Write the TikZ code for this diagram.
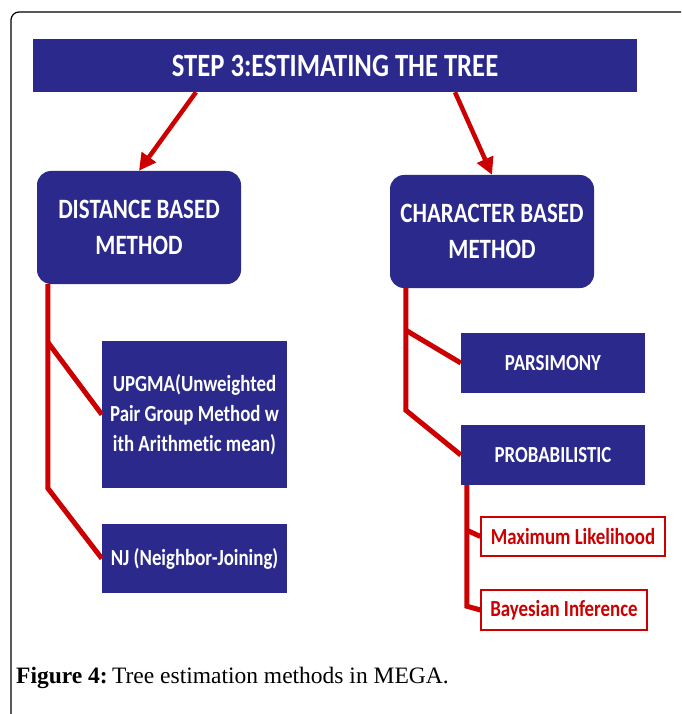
\documentclass[tikz,border=0pt]{standalone}
\usepackage{fontspec}
\usetikzlibrary{arrows.meta}
\setmainfont{Liberation Serif}
\newfontfamily\boxfont[FakeStretch=0.82,Ligatures=NoCommon]{Carlito}
\definecolor{megablue}{RGB}{43,41,140}
\definecolor{megared}{RGB}{204,0,0}

\begin{document}
\begin{tikzpicture}
        [
            x = 1pt, y = -1pt,
            boxed/.style         = {shape=rectangle, fill=megablue, text=white, align=center, inner sep=0pt,
                                    font=\boxfont\bfseries\fontsize{23}{30}\selectfont},
            methodbox/.style     = {boxed, rounded corners=14pt, minimum width=204pt, minimum height=113pt,
                                    font=\boxfont\bfseries\fontsize{28}{36}\selectfont},
            leafbox/.style       = {boxed, minimum width=185pt},
            redbox/.style        = {shape=rectangle, draw=megared, line width=1.2pt, fill=white, text=megared,
                                    inner sep=0pt, minimum height=39pt, font=\boxfont\bfseries\fontsize{23}{30}\selectfont},
            pointer/.style       = {draw=megared, line width=4.5pt, -{Triangle[length=17pt,width=17pt]}},
            branch/.style        = {draw=megared, line width=5pt},
        ]
        \useasboundingbox (0,0) rectangle (681,714);
        \draw [line width=1.2pt, rounded corners=8pt] (11,714) -- (11,12) -- (681,12);

        \node [boxed, minimum width=604pt, minimum height=53pt, font=\boxfont\bfseries\fontsize{32.5}{36}\selectfont]
            (title) at (335,65.5) {STEP 3:ESTIMATING THE TREE};

        \node [methodbox] (dist) at (139,227.5) {DISTANCE BASED\\METHOD};
        \node [methodbox] (char) at (492,231.5) {CHARACTER BASED\\METHOD};

        \node [leafbox, minimum height=147pt] (upgma) at (194.5,414.5)
            {UPGMA(Unweighted\\Pair Group Method w\\ith Arithmetic mean)};
        \node [leafbox, minimum height=69pt] (nj) at (194.5,558.5) {NJ (Neighbor-Joining)};

        \node [boxed, minimum width=184pt, minimum height=60pt] (pars) at (553,363) {PARSIMONY};
        \node [boxed, minimum width=184pt, minimum height=60pt] (prob) at (553,455) {PROBABILISTIC};

        \node [redbox, minimum width=184pt] (ml) at (573,536.5) {Maximum Likelihood};
        \node [redbox, minimum width=166pt, minimum height=40pt] (bi) at (564,610) {Bayesian Inference};

        \draw [pointer] ([xshift=-139pt]title.south) -- (dist.north);
        \draw [pointer] ([xshift=120pt]title.south) -- (char.north);

        \draw [branch] ([xshift=11pt]dist.south west) -- ++(0,204) -- (nj.west);
        \draw [branch] ([xshift=11pt,yshift=-58pt]dist.south west) -- (upgma.west);

        \draw [branch] ([xshift=16pt]char.south west) -- ++(0,122) -- (prob.west);
        \draw [branch] ([xshift=16pt,yshift=-42pt]char.south west) -- (pars.west);

        \draw [branch] ([xshift=6pt]prob.south west) -- ++(0,121) -- (bi.west);
        \draw [branch] ([xshift=6pt,yshift=-45pt]prob.south west) -- (ml.west);

        \node [anchor=base west, inner sep=0pt, font=\fontsize{23.5}{28}\selectfont] (caption) at (16,683)
            {\textbf{Figure 4:}\hspace{-0.15em} Tree estimation methods in MEGA.};
    \end{tikzpicture}
\end{document}
